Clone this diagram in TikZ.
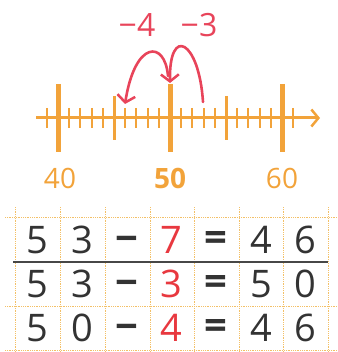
\documentclass[tikz,border=0pt]{standalone}
\usepackage{fontspec}
\setmainfont{Open Sans}
\usetikzlibrary{arrows.meta}
\definecolor{axisor}{HTML}{F2A33A}
\definecolor{jumpred}{HTML}{E8445A}
\definecolor{gridor}{HTML}{F3C067}
\definecolor{digit}{HTML}{333333}
\definecolor{redd}{HTML}{E8383F}
\tikzset{
  axisline/.style={axisor,line width=3pt,-{Straight Barb[length=7pt,width=17pt,line width=2.5pt]}},
  majortick/.style={axisor,line width=5pt},
  midtick/.style={axisor,line width=3pt},
  minortick/.style={axisor,line width=2pt},
  axislabel/.style={text=axisor,font=\fontsize{28}{28}\selectfont,inner sep=0pt},
  jump/.style={jumpred,line width=2.6pt,line cap=round,-{Straight Barb[length=7pt,width=18pt,line width=2.5pt]}},
  jumplabel/.style={text=jumpred,font=\fontsize{32}{32}\selectfont,inner sep=0pt},
  gridline/.style={gridor,line width=0.8pt,densely dotted},
  cell/.style={text=digit,font=\fontsize{38}{38}\selectfont,inner sep=0pt},
  redcell/.style={cell,text=redd},
  signcell/.style={cell,font=\fontsize{40}{40}\selectfont\bfseries},
}
\begin{document}
\begin{tikzpicture}[x=1pt,y=-1pt]
\useasboundingbox (0,0) rectangle (337,352);
% axis
\coordinate (axs) at (36,118);
\coordinate (axe) at (320,118);
\draw[axisline] (axs) -- (axe);
\foreach \n in {39,41,42,43,44,46,47,48,49,51,52,53,54,56,57,58,59,61}{
  \draw[minortick] ({58+(\n-40)*11.2},108) -- ({58+(\n-40)*11.2},128);
}
\foreach \n in {45,55}{
  \draw[midtick] ({58+(\n-40)*11.2},96) -- ({58+(\n-40)*11.2},140);
}
\foreach \n in {40,50,60}{
  \draw[majortick] ({58+(\n-40)*11.2},84) -- ({58+(\n-40)*11.2},152);
}
\node[axislabel] (l40) at (60,178) {40};
\node[axislabel,font=\fontsize{28}{28}\selectfont\bfseries] (l50) at (170,178) {50};
\node[axislabel] (l60) at (282,178) {60};
% jumps
\coordinate (p53) at (203,102);
\coordinate (p50) at (170,83);
\coordinate (p50s) at (168,76);
\coordinate (p46) at (125,104);
\draw[jump] (p53) .. controls (199,40) and (169,25) .. (p50);
\draw[jump] (p50s) .. controls (165,40) and (135,40) .. (p46);
\node[jumplabel] (m4) at (137,25) {−4};
\node[jumplabel] (m3) at (199,25) {−3};
% grid
\foreach \y in {217,306,350}{
  \draw[gridline] (5,\y) -- (337,\y);
}
\foreach \x in {15,60,105,150,194,239,283,328}{
  \draw[gridline] (\x,207) -- (\x,352);
}
\coordinate (dls) at (13,262);
\coordinate (dle) at (328,262);
\draw[digit!90,line width=2pt] (dls) -- (dle);
% rows
\foreach \r/\y/\ta/\tb/\tc/\td/\te in {a/240/5/3/7/4/6, b/284/5/3/3/5/0, c/328/5/0/4/4/6}{
  \node[cell] (\r1) at (37.5,\y) {\ta};
  \node[cell] (\r2) at (82.2,\y) {\tb};
  \node[signcell] (\r3) at (126.9,\y+4) {−};
  \node[redcell] (\r4) at (171.6,\y) {\tc};
  \node[signcell] (\r5) at (216.3,\y+1) {=};
  \node[cell] (\r6) at (261.0,\y) {\td};
  \node[cell] (\r7) at (305.7,\y) {\te};
}
\end{tikzpicture}
\end{document}
